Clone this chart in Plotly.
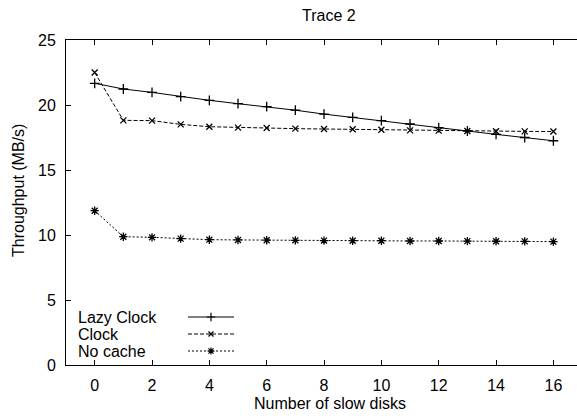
import plotly.graph_objects as go

# ---- data ----
disks = list(range(0, 17))
lazy_clock = [21.67, 21.23, 20.97, 20.64, 20.36, 20.10, 19.87, 19.60, 19.30,
              19.05, 18.80, 18.54, 18.26, 18.00, 17.74, 17.50, 17.25]
clock = [22.50, 18.82, 18.80, 18.51, 18.33, 18.26, 18.23, 18.18, 18.15,
         18.13, 18.10, 18.05, 18.03, 18.00, 17.98, 17.97, 17.96]
no_cache = [11.87, 9.87, 9.82, 9.72, 9.64, 9.62, 9.60, 9.59, 9.57,
            9.56, 9.56, 9.54, 9.54, 9.53, 9.52, 9.51, 9.49]
series_names = ["Lazy Clock", "Clock", "No cache"]
x_ticks = list(range(0, 17, 2))
y_ticks = list(range(0, 26, 5))

# ---- layout geometry (pixels) ----
W, H = 577, 419
L, R, T, B = 66, 0, 40, 54
PW = W - L - R
PH = H - T - B
FONT = "Liberation Sans, Arial, Helvetica, sans-serif"

def px_x(p):
    return (p - L) / PW

def px_y(p):
    return (H - B - p) / PH

styles = [
    dict(dash="solid", symbol="cross-thin-open", size=7),
    dict(dash="4px,2px", symbol="x-thin-open", size=6),
    dict(dash="2px,2px", symbol="asterisk-open", size=7),
]
values = [lazy_clock, clock, no_cache]

fig = go.Figure()
for name, ys, st in zip(series_names, values, styles):
    fig.add_trace(go.Scatter(
        x=disks, y=ys, mode="lines+markers", name=name, showlegend=False,
        line=dict(color="black", width=1, dash=st["dash"]),
        marker=dict(symbol=st["symbol"], size=st["size"], color="black",
                    line=dict(color="black", width=1.3)),
    ))

# ---- custom legend (text left, sample right) on a pixel overlay axis ----
leg_rows = [317, 334, 351]
for name, st, yy in zip(series_names, styles, leg_rows):
    fig.add_trace(go.Scatter(
        x=[188, 234], y=[yy, yy], xaxis="x2", yaxis="y2", mode="lines",
        showlegend=False, hoverinfo="skip",
        line=dict(color="black", width=1, dash=st["dash"]),
    ))
    fig.add_trace(go.Scatter(
        x=[211], y=[yy], xaxis="x2", yaxis="y2", mode="markers",
        showlegend=False, hoverinfo="skip",
        marker=dict(symbol=st["symbol"], size=st["size"] - 1, color="black",
                    line=dict(color="black", width=1.2)),
    ))
    fig.add_annotation(
        text=name, xref="paper", yref="paper", x=px_x(76), y=px_y(yy),
        xanchor="left", yanchor="middle", showarrow=False,
        font=dict(family=FONT, size=16, color="black"),
    )

axis_common = dict(
    showgrid=False, zeroline=False, showline=True, linecolor="black",
    linewidth=1, ticks="inside", ticklen=5, tickwidth=1,
    tickcolor="black", tickfont=dict(family=FONT, size=16, color="black"),
)

fig.update_layout(
    width=W, height=H,
    margin=dict(l=L, r=R, t=T, b=B),
    paper_bgcolor="white", plot_bgcolor="white",
    showlegend=False,
    xaxis=dict(range=[-1, -1 + PW / 28.67], tickvals=x_ticks, mirror="ticks",
               ticklabelstandoff=6, **axis_common),
    yaxis=dict(range=[0, 25], tickvals=y_ticks, mirror=False,
               ticklabelstandoff=6, **axis_common),
    xaxis2=dict(range=[L, W - R], overlaying="x", visible=False, fixedrange=True),
    yaxis2=dict(range=[H - B, T], overlaying="y", visible=False, fixedrange=True),
    annotations=list(fig.layout.annotations) + [
        dict(text="Trace 2", xref="paper", yref="paper", x=px_x(329), y=px_y(15),
             xanchor="center", yanchor="middle", showarrow=False,
             font=dict(family=FONT, size=16, color="black")),
        dict(text="Number of slow disks", xref="paper", yref="paper",
             x=px_x(330), y=px_y(403), xanchor="center", yanchor="middle",
             showarrow=False, font=dict(family=FONT, size=16, color="black")),
        dict(text="Throughput (MB/s)", xref="paper", yref="paper",
             x=px_x(18), y=px_y(191), xanchor="center", yanchor="middle",
             textangle=-90, showarrow=False,
             font=dict(family=FONT, size=16, color="black")),
    ],
)

fig.write_html("out.html")
